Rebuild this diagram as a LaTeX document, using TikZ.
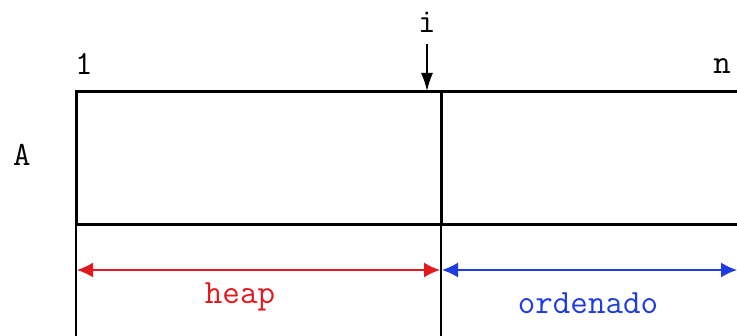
\documentclass[tikz,border=0pt]{standalone}
\usetikzlibrary{arrows.meta}

\definecolor{heapred}{RGB}{225,25,30}
\definecolor{ordblue}{RGB}{30,60,225}

\begin{document}
\begin{tikzpicture}[x=1pt,y=-1pt,
  lbl/.style={font=\ttfamily\fontsize{34}{34}\selectfont,inner sep=0pt},
  span/.style={{Latex[length=16pt,width=15pt]}-{Latex[length=16pt,width=15pt]},line width=1.6pt}]
\useasboundingbox (0,0) rectangle (737,336);
\clip (0,0) rectangle (737,336);

\node[lbl] (Ni) at (427,22) {i};
\node[lbl] (N1) at (84,64) {1};
\node[lbl] (Nn) at (722,66) {n};
\node[lbl] (NA) at (22,155) {A};

% array
\draw[line width=3pt] (76,92) rectangle (745,225);
\draw[line width=3pt] (441,92) -- (441,225);
\draw[line width=1.4pt] (76,225) -- (76,340) (441,225) -- (441,340);

% pointer
\coordinate (P0) at (427,44);
\coordinate (P1) at (427,91);
\path[-{Latex[length=18pt,width=12pt]},line width=1.4pt] (P0) edge (P1);

% ranges
\coordinate (H0) at (77,270);
\coordinate (H1) at (440,270);
\coordinate (O0) at (442,270);
\coordinate (O1) at (737,270);
\path[span,heapred] (H0) edge (H1);
\path[span,ordblue] (O0) edge (O1);
\node[lbl,text=heapred] (Nh) at (240,297) {heap};
\node[lbl,text=ordblue] (No) at (588,303) {ordenado};
\end{tikzpicture}
\end{document}
